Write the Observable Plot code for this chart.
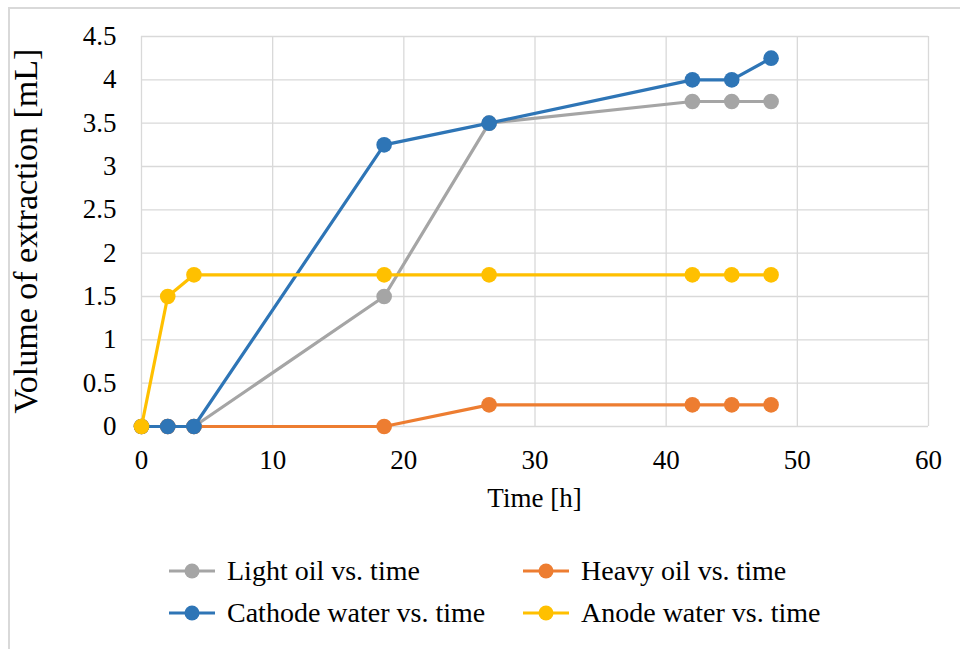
<!DOCTYPE html>
<html>
<head>
<meta charset="utf-8">
<script src="https://cdn.jsdelivr.net/npm/d3@7"></script>
<script src="https://cdn.jsdelivr.net/npm/@observablehq/plot@0.6"></script>
<style>
  html, body { margin: 0; padding: 0; background: #fff; overflow: hidden; width: 960px; height: 649px; }
  #frame { position: absolute; left: 8px; top: 7px; width: 1000px; height: 700px; border: 2px solid #d9d9d9; box-sizing: border-box; }
  #chart { position: absolute; left: 0; top: 0; }
  #chart svg, #chart svg g, #chart svg text { font-family: "Liberation Serif", "Times New Roman", serif !important; font-variant: normal !important; font-variant-numeric: normal !important; }
  #chart svg text { font-size: 27px !important; fill: #000; }
  #chart svg text.title { font-size: 27px !important; }
  #chart svg text.ytitle { font-size: 34px !important; }
  #legend { position: absolute; left: 0; top: 550px; width: 960px; font-family: "Liberation Serif", "Times New Roman", serif; font-size: 28px; color: #000; }
  .item { position: absolute; display: flex; align-items: center; white-space: nowrap; }
  .item svg { margin-right: 11px; }
</style>
</head>
<body>
<div id="frame"></div>
<div id="chart"></div>
<div id="legend"></div>
<script>
const time = [0, 2, 4, 18.5, 26.5, 42, 45, 48];
const lightOil = [0, 0, 0, 1.5, 3.5, 3.75, 3.75, 3.75];
const heavyOil = [0, 0, 0, 0, 0.25, 0.25, 0.25, 0.25];
const cathodeWater = [0, 0, 0, 3.25, 3.5, 4, 4, 4.25];
const anodeWater = [0, 1.5, 1.75, 1.75, 1.75, 1.75, 1.75, 1.75];
const seriesNames = ["Light oil vs. time", "Heavy oil vs. time", "Cathode water vs. time", "Anode water vs. time"];
const seriesColors = ["#a5a5a5", "#ed7d31", "#2e75b6", "#ffc000"];
const xTicks = [0, 10, 20, 30, 40, 50, 60];
const yTicks = [0, 0.5, 1, 1.5, 2, 2.5, 3, 3.5, 4, 4.5];
const xTitle = "Time [h]";
const yTitle = "Volume of extraction [mL]";

const allSeries = [lightOil, heavyOil, cathodeWater, anodeWater];
const rows = allSeries.flatMap((vals, si) => time.map((t, i) => ({series: seriesNames[si], t, v: vals[i]})));

const marks = [
  Plot.ruleX(xTicks, {stroke: "#d9d9d9", strokeWidth: 1.3}),
  Plot.ruleY(yTicks, {stroke: "#d9d9d9", strokeWidth: 1.3})
];
seriesNames.forEach((name, si) => {
  const d = rows.filter(r => r.series === name);
  marks.push(Plot.line(d, {x: "t", y: "v", stroke: seriesColors[si], strokeWidth: 3.2}));
  marks.push(Plot.dot(d, {x: "t", y: "v", fill: seriesColors[si], r: 7.8}));
});

const W = 960, H = 520, mL = 141, mR = 32, mT = 36, mB = 94;
const chart = Plot.plot({
  width: W,
  height: H,
  marginLeft: mL,
  marginRight: mR,
  marginTop: mT,
  marginBottom: mB,
  style: {fontFamily: "'Liberation Serif', 'Times New Roman', serif", color: "#000", background: "transparent"},
  x: {domain: [0, 60], ticks: xTicks, tickSize: 0, tickPadding: 23, label: null, tickFormat: d => String(d)},
  y: {domain: [0, 4.5], ticks: yTicks, tickSize: 0, tickPadding: 25, label: null, tickFormat: d => String(d)},
  marks
});
const svg = d3.select(chart);
svg.selectAll("text").attr("font-family", "Liberation Serif").attr("font-variant", null);
svg.append("text").attr("class", "title")
  .attr("x", mL + (W - mL - mR) / 2).attr("y", 507)
  .attr("text-anchor", "middle").text(xTitle);
svg.append("text").attr("class", "ytitle")
  .attr("transform", `translate(37,${mT + (H - mT - mB) / 2}) rotate(-90)`)
  .attr("text-anchor", "middle").text(yTitle);
document.getElementById("chart").appendChild(chart);

const legendPos = [[168, 21], [522, 21], [168, 63], [522, 63]];
const legend = document.getElementById("legend");
seriesNames.forEach((name, si) => {
  const div = document.createElement("div");
  div.className = "item";
  div.style.left = legendPos[si][0] + "px";
  div.style.top = (legendPos[si][1] - 16) + "px";
  div.innerHTML = `<svg width="48" height="32"><line x1="1" y1="16" x2="47" y2="16" stroke="${seriesColors[si]}" stroke-width="3.2"/><circle cx="24" cy="16" r="7.5" fill="${seriesColors[si]}"/></svg><span>${name}</span>`;
  legend.appendChild(div);
});
</script>
</body>
</html>
